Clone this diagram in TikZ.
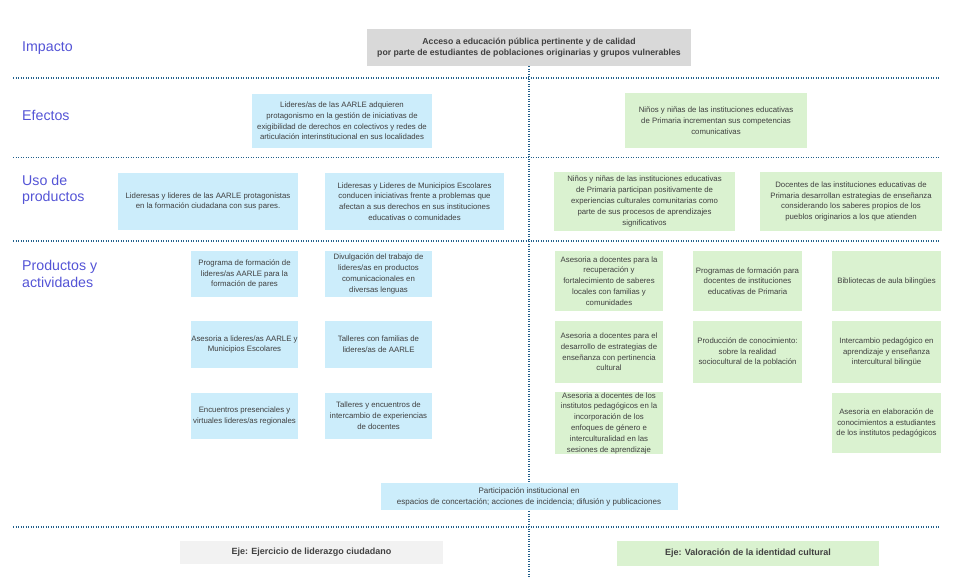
\documentclass[tikz,border=0pt]{standalone}
\usepackage{fontspec}
\setmainfont{Liberation Sans}
\definecolor{cajaazul}{RGB}{204,237,251}
\definecolor{cajaverde}{RGB}{218,242,208}
\definecolor{cajagris}{RGB}{217,217,217}
\definecolor{grisclaro}{RGB}{242,242,242}
\definecolor{linea}{RGB}{33,95,140}
\definecolor{nivel}{RGB}{84,84,214}
\definecolor{texto}{RGB}{64,64,64}
\begin{document}
\begin{tikzpicture}[x=1pt,y=-1pt,
        caja/.style={align=center,inner sep=0pt,text=texto,font=\fontsize{7.8}{10.8}\selectfont},
        azul/.style={caja,fill=cajaazul},
        verde/.style={caja,fill=cajaverde},
        nivel/.style={anchor=west,align=left,inner sep=0pt,text=nivel,font=\fontsize{14.2}{16.5}\selectfont},
        divisor/.style={linea,line width=1.2pt,dash pattern=on 1.2pt off 1.3pt}]
        \useasboundingbox (0,0) rectangle (957,585);
        % niveles
        \node[nivel] (impacto) at (22,48) {Impacto};
        \node[nivel] (efectos) at (22,115) {Efectos};
        \node[nivel] (uso) at (22,190) {Uso de\\productos};
        \node[nivel] (productos) at (22,274) {Productos y\\actividades};
        % divisores
        \draw[divisor] (13,78) -- (940,78);
        \draw[divisor] (13,157.5) -- (940,157.5);
        \draw[divisor] (13,241) -- (940,241);
        \draw[divisor] (13,527) -- (940,527);
        % impacto
        \node[caja,fill=cajagris,font=\fontsize{8.7}{11.5}\selectfont\bfseries,minimum width=324pt,minimum height=37pt] (imp) at (529,47.5) {Acceso a educación pública pertinente y de calidad\\por parte de estudiantes de poblaciones originarias y grupos vulnerables};
        \coordinate (fondo) at (529,578);
        \draw[divisor] (imp.south) -- (imp.south |- fondo);
        % efectos
        \node[azul,minimum width=180pt,minimum height=54pt] (efL) at (342,121) {Lideres/as de las AARLE adquieren\\protagonismo en la gestión de iniciativas de\\exigibilidad de derechos en colectivos y redes de\\articulación interinstitucional en sus localidades};
        \node[verde,minimum width=182pt,minimum height=55pt] (efR) at (716,120.5) {Niños y niñas de las instituciones educativas\\de Primaria incrementan sus competencias\\comunicativas};
        % uso de productos
        \node[azul,minimum width=180pt,minimum height=57pt] (usoA) at (208,201.5) {Lideresas y lideres de las AARLE protagonistas\\en la formación ciudadana con sus pares.};
        \node[azul,minimum width=179pt,minimum height=57pt] (usoB) at (414.5,201.5) {Lideresas y Lideres de Municipios Escolares\\conducen iniciativas frente a problemas que\\afectan a sus derechos en sus instituciones\\educativas o comunidades};
        \node[verde,minimum width=181pt,minimum height=59pt] (usoC) at (644.5,201.5) {Niños y niñas de las instituciones educativas\\de Primaria participan positivamente de\\experiencias culturales comunitarias como\\parte de sus procesos de aprendizajes\\significativos};
        \node[verde,minimum width=182pt,minimum height=59pt] (usoD) at (851,201.5) {Docentes de las instituciones educativas de\\Primaria desarrollan estrategias de enseñanza\\considerando los saberes propios de los\\pueblos originarios a los que atienden};
        % productos y actividades (liderazgo)
        \node[azul,minimum width=107pt,minimum height=46pt] (pL1) at (244.5,274) {Programa de formación de\\lideres/as AARLE para la\\formación de pares};
        \node[azul,minimum width=107pt,minimum height=47pt] (pL2) at (244.5,344.5) {Asesoria a lideres/as AARLE y\\Municipios Escolares};
        \node[azul,minimum width=107pt,minimum height=46pt] (pL3) at (244.5,416) {Encuentros presenciales y\\virtuales lideres/as regionales};
        \node[azul,minimum width=107pt,minimum height=46pt] (pL4) at (378.5,274) {Divulgación del trabajo de\\lideres/as en productos\\comunicacionales en\\diversas lenguas};
        \node[azul,minimum width=107pt,minimum height=47pt] (pL5) at (378.5,344.5) {Talleres con familias de\\lideres/as de AARLE};
        \node[azul,minimum width=107pt,minimum height=46pt] (pL6) at (378.5,416) {Talleres y encuentros de\\intercambio de experiencias\\de docentes};
        % productos y actividades (identidad)
        \node[verde,minimum width=108pt,minimum height=60pt] (pR1) at (609,281) {Asesoria a docentes para la\\recuperación y\\fortalecimiento de saberes\\locales con familias y\\comunidades};
        \node[verde,minimum width=108pt,minimum height=62pt] (pR2) at (609,352) {Asesoria a docentes para el\\desarrollo de estrategias de\\enseñanza con pertinencia\\cultural};
        \node[verde,minimum width=108pt,minimum height=60pt] (pR3) at (609,423) {Asesoria a docentes de los\\institutos pedagógicos en la\\incorporación de los\\enfoques de género e\\interculturalidad en las\\sesiones de aprendizaje};
        \node[verde,minimum width=109pt,minimum height=60pt] (pR4) at (747.5,281) {Programas de formación para\\docentes de instituciones\\educativas de Primaria};
        \node[verde,minimum width=109pt,minimum height=62pt] (pR5) at (747.5,352) {Producción de conocimiento:\\sobre la realidad\\sociocultural de la población};
        \node[verde,minimum width=109pt,minimum height=60pt] (pR6) at (886.5,281) {Bibliotecas de aula bilingües};
        \node[verde,minimum width=109pt,minimum height=62pt] (pR7) at (886.5,352) {Intercambio pedagógico en\\aprendizaje y enseñanza\\intercultural bilingüe};
        \node[verde,minimum width=109pt,minimum height=60pt] (pR8) at (886.5,423) {Asesoria en elaboración de\\conocimientos a estudiantes\\de los institutos pedagógicos};
        % participacion
        \node[azul,font=\fontsize{8}{11}\selectfont,minimum width=297pt,minimum height=27pt] (part) at (529,496.5) {Participación institucional en\\espacios de concertación; acciones de incidencia; difusión y publicaciones};
        % ejes
        \node[caja,fill=grisclaro,font=\fontsize{9}{11}\selectfont\bfseries,minimum width=263pt,minimum height=23pt] (ejeL) at (311.5,552.5) {Eje: Ejercicio de liderazgo ciudadano};
        \node[verde,font=\fontsize{9}{11}\selectfont\bfseries,minimum width=262pt,minimum height=25pt] (ejeR) at (748,553.5) {Eje: Valoración de la identidad cultural};
        \end{tikzpicture}
\end{document}
